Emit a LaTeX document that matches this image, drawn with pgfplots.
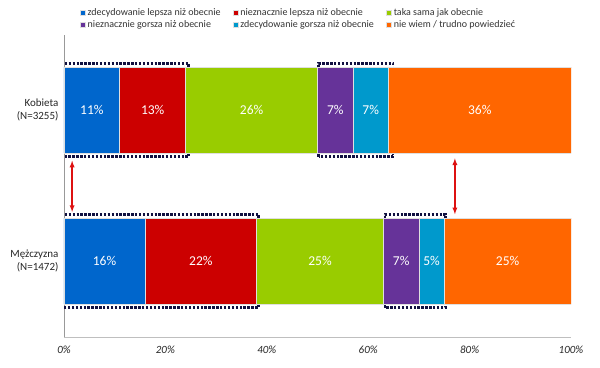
\documentclass[border=0pt]{standalone}
\usepackage{pgfplots}
\pgfplotsset{compat=1.18}
\usepackage{fontspec}
\setmainfont{Carlito}
\definecolor{cblue}{HTML}{0066CC}
\definecolor{cred}{HTML}{CC0000}
\definecolor{cgreen}{HTML}{99CC00}
\definecolor{cpurple}{HTML}{663399}
\definecolor{ccyan}{HTML}{0099CC}
\definecolor{corange}{HTML}{FF6600}
\definecolor{cnavy}{HTML}{101040}
\definecolor{carrow}{HTML}{DD1111}
\begin{document}
\begin{tikzpicture}
\useasboundingbox (0,0) rectangle (600pt,367pt);
\begin{axis}[
  at={(64pt,30pt)}, anchor=south west, scale only axis,
  width=507pt, height=302pt,
  xbar stacked, bar width=86pt,
  xmin=0, xmax=100, ymin=-0.503, ymax=1.497,
  axis x line*=bottom, axis y line*=left,
  x axis line style={draw=gray!50, line width=0.8pt, -},
  y axis line style={draw=gray!80, line width=0.8pt, -},
  major tick length=0pt,
  xtick={0,20,...,100},
  xticklabel={\pgfmathprintnumber{\tick}\%},
  /pgf/number format/assume math mode=true,
  xticklabel style={font=\fontsize{11}{13}\selectfont\itshape, text=black!85, yshift=-5pt},
  ytick={0,1},
  yticklabels={{Mężczyzna\\(N=1472)},{Kobieta\\(N=3255)}},
  yticklabel style={align=right, font=\fontsize{11}{13.5}\selectfont, text=black!85, xshift=-2pt},
  every axis plot/.append style={draw=white!75!gray, line width=0.6pt},
  point meta=explicit symbolic,
  nodes near coords,
  every node near coord/.append style={anchor=center,
    text=white, font=\fontsize{13.5}{15}\selectfont},
  legend columns=3,
  legend cell align=left,
  legend image code/.code={\fill[#1] (0pt,-2.6pt) rectangle (5.2pt,2.6pt);},
  legend style={draw=none, fill=none, inner sep=0pt,
    at={(axis description cs:0.031,1.095)}, anchor=north west,
    font=\fontsize{10}{12}\selectfont, text=black!80,
    row sep=0pt,
    /tikz/every even column/.append style={column sep=10pt}},
]
\addplot[fill=cblue] coordinates {(11,1) [11\%] (16,0) [16\%]};
\addplot[fill=cred] coordinates {(13,1) [13\%] (22,0) [22\%]};
\addplot[fill=cgreen] coordinates {(26,1) [26\%] (25,0) [25\%]};
\addplot[fill=cpurple] coordinates {(7,1) [7\%] (7,0) [7\%]};
\addplot[fill=ccyan] coordinates {(7,1) [7\%] (5,0) [5\%]};
\addplot[fill=corange] coordinates {(36,1) [36\%] (25,0) [25\%]};
\legend{zdecydowanie lepsza niż obecnie, nieznacznie lepsza niż obecnie, taka sama jak obecnie,
  nieznacznie gorsza niż obecnie, zdecydowanie gorsza niż obecnie, nie wiem / trudno powiedzieć}
% dotted highlight boxes
\draw[cnavy, line width=2.8pt, dash pattern=on 2.4pt off 1.5pt]
  (axis cs:-0.6,0.69) rectangle (axis cs:24.6,1.31);
\draw[cnavy, line width=2.8pt, dash pattern=on 2.4pt off 1.5pt]
  (axis cs:50.2,0.69) rectangle (axis cs:64.9,1.31);
\draw[cnavy, line width=2.8pt, dash pattern=on 2.4pt off 1.5pt]
  (axis cs:-0.6,-0.31) rectangle (axis cs:38.4,0.31);
\draw[cnavy, line width=2.8pt, dash pattern=on 2.4pt off 1.5pt]
  (axis cs:63.3,-0.31) rectangle (axis cs:75.2,0.31);
% arrows
\draw[carrow, line width=1.3pt, latex-latex] (axis cs:1.6,0.665) -- (axis cs:1.6,0.325);
\draw[carrow, line width=1.3pt, latex-latex] (axis cs:77.1,0.68) -- (axis cs:77.1,0.31);
\end{axis}
\end{tikzpicture}
\end{document}
